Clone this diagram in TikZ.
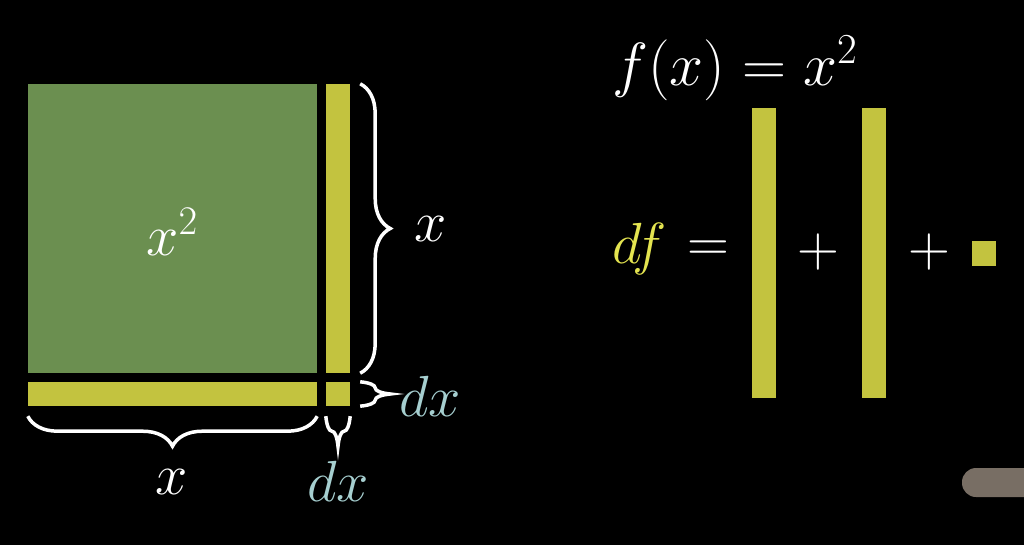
\RequirePackage{fix-cm}
\documentclass[tikz,border=0pt]{standalone}
\usepackage{amsmath,amssymb}
\usepackage{xcolor}
\usepackage{tikz}
\usetikzlibrary{positioning, calc, decorations.pathreplacing}
\definecolor{areafill}{RGB}{107,143,80}
\definecolor{stripfill}{RGB}{195,195,63}
\definecolor{dxcolor}{RGB}{166,207,208}
\definecolor{dfcolor}{RGB}{228,228,80}
\definecolor{handlegrey}{RGB}{120,110,100}
\tikzset{
    area/.style={
        rectangle,
        fill=areafill,
        inner sep=0pt,
        minimum width=289pt,
        minimum height=289pt,
        text=white
    },
    strip/.style={
        rectangle,
        fill=stripfill,
        inner sep=0pt
    },
    widthbrace/.style={
        draw=white,
        line width=3.5pt,
        decorate,
        decoration={brace, amplitude=30pt}
    },
    label/.style={
        text=white,
        inner sep=0pt,
        font=\fontsize{58}{70}\selectfont
    },
    dxlabel/.style={
        label,
        text=dxcolor
    }
}

\begin{document}
\begin{tikzpicture}[x=1pt, y=-1pt]

% Canvas
\useasboundingbox (0,0) rectangle (1024,545);
\fill[black] (0,0) rectangle (1024,545);
\clip (0,0) rectangle (1024,545);

% Square and its thin strips
\node[area] (sq) at (172.5,228.5) {};
\node[strip, minimum width=24pt, minimum height=289pt] (vstrip) at (338,228.5) {};
\node[strip, minimum width=289pt, minimum height=24pt] (hstrip) at (172.5,394) {};
\node[strip, minimum width=24pt, minimum height=24pt] (corner) at (338,394) {};
\node[label] (sqlabel) at (172,232) {$x^2$};

% Braces
\draw[widthbrace] ($(vstrip.north east)+(10,0)$) -- ($(vstrip.south east)+(10,0)$);
\draw[widthbrace] ($(corner.north east)+(10,0)$) -- ($(corner.south east)+(10,0)$);
\draw[widthbrace, decoration={mirror}] ($(hstrip.south west)+(0,10)$) -- ($(hstrip.south east)+(0,10)$);
\draw[widthbrace, decoration={mirror}] ($(corner.south west)+(0,10)$) -- ($(corner.south east)+(0,10)$);

\node[label] (xright) at (431,229) {$x$};
\node[dxlabel] (dxright) at (430,396) {$dx$};
\node[label] (xbottom) at (172,482) {$x$};
\node[dxlabel] (dxbottom) at (338,481) {$dx$};

% Equation
\node[label, anchor=base west, font=\fontsize{61}{73}\selectfont] (fdef) at (612,86) {$f(x) = x^2$};
\node[label, anchor=base west, text=dfcolor] (df) at (612,263) {$df$};
\node[label] (eq) at (708,251) {$=$};
\node[strip, minimum width=24pt, minimum height=290pt] (barone) at (764,253) {};
\node[label] (plusone) at (818,252) {$+$};
\node[strip, minimum width=24pt, minimum height=290pt] (bartwo) at (874,253) {};
\node[label] (plustwo) at (929,252) {$+$};
\node[strip, minimum width=24pt, minimum height=25pt] (dot) at (984,253.5) {};

% Scroll handle
\fill[handlegrey, rounded corners=14pt] (962,468) rectangle (1060,497);

\end{tikzpicture}
\end{document}
